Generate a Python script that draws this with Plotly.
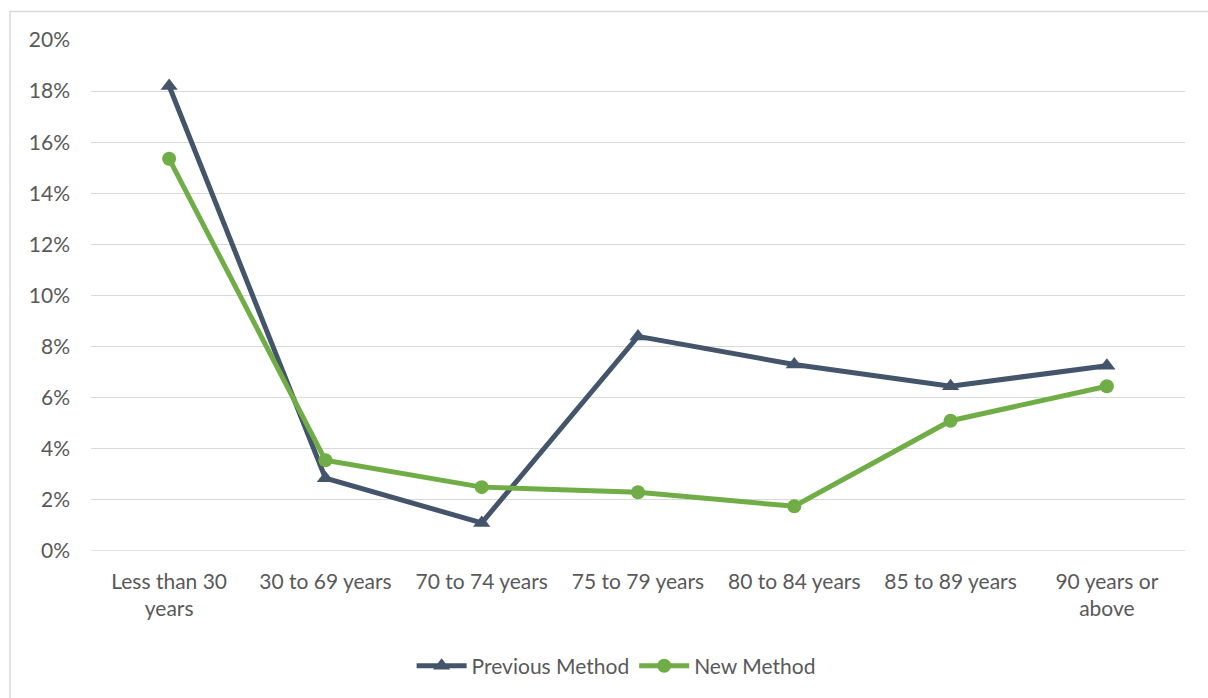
import plotly.graph_objects as go

# Age bands and share (%) under each method
categories = ["Less than 30<br>years", "30 to 69 years", "70 to 74 years", "75 to 79 years",
              "80 to 84 years", "85 to 89 years", "90 years or<br>above"]
previous_method = [18.2, 2.85, 1.1, 8.4, 7.3, 6.45, 7.25]
new_method = [15.35, 3.55, 2.5, 2.3, 1.75, 5.1, 6.45]

NAVY = "#44546A"
GREEN = "#70AD47"
TEXT = "#595959"
FONT = "Lato"
SIZE = 21

fig = go.Figure()
fig.add_trace(go.Scatter(
    x=categories, y=previous_method, name="Previous Method",
    mode="lines+markers",
    line=dict(color=NAVY, width=5),
    marker=dict(symbol="triangle-up", size=15, color=NAVY),
))
fig.add_trace(go.Scatter(
    x=categories, y=new_method, name="New Method",
    mode="lines+markers",
    line=dict(color=GREEN, width=5),
    marker=dict(symbol="circle", size=14, color=GREEN),
))

fig.update_layout(
    width=1208, height=698,
    margin=dict(l=91, r=23, t=40, b=145),
    paper_bgcolor="white", plot_bgcolor="white",
    font=dict(family=FONT, size=SIZE, color=TEXT),
    showlegend=True,
    legend=dict(orientation="h", x=0.48, xanchor="center", y=-0.185, yanchor="top",
                font=dict(family=FONT, size=SIZE, color=TEXT), itemwidth=50,
                traceorder="normal"),
    xaxis=dict(type="category", range=[-0.5, 6.5], showgrid=False, showline=False,
               zeroline=False, ticks="", ticklabelstandoff=16,
               tickfont=dict(size=SIZE, color=TEXT)),
    yaxis=dict(range=[0, 20], dtick=2, ticksuffix="%", showgrid=True,
               gridcolor="#D9D9D9", gridwidth=1.3, zeroline=False, showline=False,
               ticks="", ticklabelstandoff=20, tickfont=dict(size=SIZE, color=TEXT)),
    shapes=[
        # 0% baseline
        dict(type="line", xref="paper", yref="y", x0=0, x1=1, y0=0, y1=0,
             line=dict(color="#D9D9D9", width=1.3), layer="below"),
        # chart frame
        dict(type="rect", xref="paper", yref="paper", x0=-0.074, x1=1.03,
             y0=-0.3, y1=1.056, line=dict(color="#D9D9D9", width=1.5)),
    ],
)

fig.write_html("out.html")
